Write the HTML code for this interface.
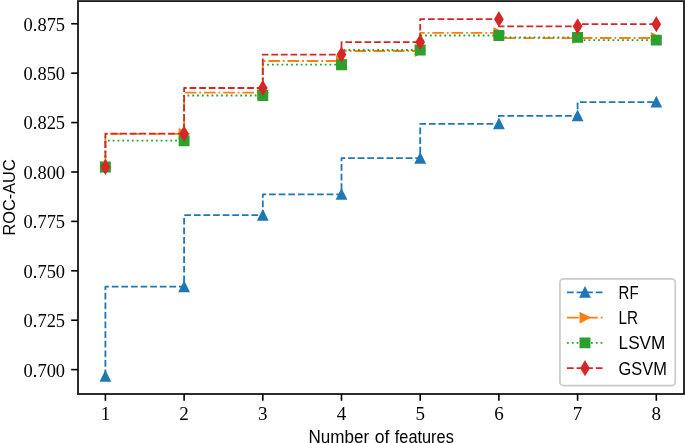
<!DOCTYPE html>
<html><head><meta charset="utf-8"><title>ROC-AUC vs Number of features</title>
<style>
html,body{margin:0;padding:0;background:#fff;}
svg{display:block;}
.tk{font-family:"Liberation Serif","DejaVu Serif",serif;font-size:19px;fill:#000;}
.lb{font-family:"Liberation Sans","DejaVu Sans",sans-serif;font-size:17.5px;fill:#000;}
</style></head><body>
<svg width="685" height="443" viewBox="0 0 685 443">
<rect width="685" height="443" fill="#fff"/>

<g>
<path d="M105.40 376.30 V286.70 H184.10 V215.20 H262.80 V194.40 H341.50 V158.20 H420.20 V123.80 H498.90 V115.90 H577.60 V102.05 H656.30" fill="none" stroke="#1f77b4" stroke-width="1.812" stroke-dasharray="6.70 2.90" stroke-linejoin="round"/>
<polygon points="105.40,371.60 100.70,381.00 110.10,381.00" fill="#1f77b4" stroke="#1f77b4" stroke-width="1.5" stroke-linejoin="miter"/>
<polygon points="184.10,282.00 179.40,291.40 188.80,291.40" fill="#1f77b4" stroke="#1f77b4" stroke-width="1.5" stroke-linejoin="miter"/>
<polygon points="262.80,210.50 258.10,219.90 267.50,219.90" fill="#1f77b4" stroke="#1f77b4" stroke-width="1.5" stroke-linejoin="miter"/>
<polygon points="341.50,189.70 336.80,199.10 346.20,199.10" fill="#1f77b4" stroke="#1f77b4" stroke-width="1.5" stroke-linejoin="miter"/>
<polygon points="420.20,153.50 415.50,162.90 424.90,162.90" fill="#1f77b4" stroke="#1f77b4" stroke-width="1.5" stroke-linejoin="miter"/>
<polygon points="498.90,119.10 494.20,128.50 503.60,128.50" fill="#1f77b4" stroke="#1f77b4" stroke-width="1.5" stroke-linejoin="miter"/>
<polygon points="577.60,111.20 572.90,120.60 582.30,120.60" fill="#1f77b4" stroke="#1f77b4" stroke-width="1.5" stroke-linejoin="miter"/>
<polygon points="656.30,97.35 651.60,106.75 661.00,106.75" fill="#1f77b4" stroke="#1f77b4" stroke-width="1.5" stroke-linejoin="miter"/>

<path d="M105.40 167.00 V133.80 H184.10 V92.70 H262.80 V61.00 H341.50 V51.00 H420.20 V32.90 H498.90 V38.10 H577.60 V38.00 H656.30" fill="none" stroke="#ff7f0e" stroke-width="1.812" stroke-dasharray="11.60 2.90 1.81 2.90" stroke-linejoin="round"/>
<polygon points="110.10,167.00 100.70,162.30 100.70,171.70" fill="#ff7f0e" stroke="#ff7f0e" stroke-width="1.5" stroke-linejoin="miter"/>
<polygon points="188.80,133.80 179.40,129.10 179.40,138.50" fill="#ff7f0e" stroke="#ff7f0e" stroke-width="1.5" stroke-linejoin="miter"/>
<polygon points="267.50,92.70 258.10,88.00 258.10,97.40" fill="#ff7f0e" stroke="#ff7f0e" stroke-width="1.5" stroke-linejoin="miter"/>
<polygon points="346.20,61.00 336.80,56.30 336.80,65.70" fill="#ff7f0e" stroke="#ff7f0e" stroke-width="1.5" stroke-linejoin="miter"/>
<polygon points="424.90,51.00 415.50,46.30 415.50,55.70" fill="#ff7f0e" stroke="#ff7f0e" stroke-width="1.5" stroke-linejoin="miter"/>
<polygon points="503.60,32.90 494.20,28.20 494.20,37.60" fill="#ff7f0e" stroke="#ff7f0e" stroke-width="1.5" stroke-linejoin="miter"/>
<polygon points="582.30,38.10 572.90,33.40 572.90,42.80" fill="#ff7f0e" stroke="#ff7f0e" stroke-width="1.5" stroke-linejoin="miter"/>
<polygon points="661.00,38.00 651.60,33.30 651.60,42.70" fill="#ff7f0e" stroke="#ff7f0e" stroke-width="1.5" stroke-linejoin="miter"/>

<path d="M105.40 167.00 V140.70 H184.10 V95.50 H262.80 V64.70 H341.50 V50.00 H420.20 V35.50 H498.90 V37.40 H577.60 V40.10 H656.30" fill="none" stroke="#2ca02c" stroke-width="1.812" stroke-dasharray="1.81 2.99" stroke-linejoin="round"/>
<polygon points="100.70,162.30 110.10,162.30 110.10,171.70 100.70,171.70" fill="#2ca02c" stroke="#2ca02c" stroke-width="1.5" stroke-linejoin="miter"/>
<polygon points="179.40,136.00 188.80,136.00 188.80,145.40 179.40,145.40" fill="#2ca02c" stroke="#2ca02c" stroke-width="1.5" stroke-linejoin="miter"/>
<polygon points="258.10,90.80 267.50,90.80 267.50,100.20 258.10,100.20" fill="#2ca02c" stroke="#2ca02c" stroke-width="1.5" stroke-linejoin="miter"/>
<polygon points="336.80,60.00 346.20,60.00 346.20,69.40 336.80,69.40" fill="#2ca02c" stroke="#2ca02c" stroke-width="1.5" stroke-linejoin="miter"/>
<polygon points="415.50,45.30 424.90,45.30 424.90,54.70 415.50,54.70" fill="#2ca02c" stroke="#2ca02c" stroke-width="1.5" stroke-linejoin="miter"/>
<polygon points="494.20,30.80 503.60,30.80 503.60,40.20 494.20,40.20" fill="#2ca02c" stroke="#2ca02c" stroke-width="1.5" stroke-linejoin="miter"/>
<polygon points="572.90,32.70 582.30,32.70 582.30,42.10 572.90,42.10" fill="#2ca02c" stroke="#2ca02c" stroke-width="1.5" stroke-linejoin="miter"/>
<polygon points="651.60,35.40 661.00,35.40 661.00,44.80 651.60,44.80" fill="#2ca02c" stroke="#2ca02c" stroke-width="1.5" stroke-linejoin="miter"/>

<path d="M105.40 167.00 V133.70 H184.10 V88.00 H262.80 V54.55 H341.50 V42.10 H420.20 V19.20 H498.90 V26.30 H577.60 V24.20 H656.30" fill="none" stroke="#d62728" stroke-width="1.812" stroke-dasharray="6.70 2.90" stroke-linejoin="round"/>
<polygon points="105.40,160.35 109.39,167.00 105.40,173.65 101.41,167.00" fill="#d62728" stroke="#d62728" stroke-width="1.5" stroke-linejoin="miter"/>
<polygon points="184.10,127.05 188.09,133.70 184.10,140.35 180.11,133.70" fill="#d62728" stroke="#d62728" stroke-width="1.5" stroke-linejoin="miter"/>
<polygon points="262.80,81.35 266.79,88.00 262.80,94.65 258.81,88.00" fill="#d62728" stroke="#d62728" stroke-width="1.5" stroke-linejoin="miter"/>
<polygon points="341.50,47.90 345.49,54.55 341.50,61.20 337.51,54.55" fill="#d62728" stroke="#d62728" stroke-width="1.5" stroke-linejoin="miter"/>
<polygon points="420.20,35.45 424.19,42.10 420.20,48.75 416.21,42.10" fill="#d62728" stroke="#d62728" stroke-width="1.5" stroke-linejoin="miter"/>
<polygon points="498.90,12.55 502.89,19.20 498.90,25.85 494.91,19.20" fill="#d62728" stroke="#d62728" stroke-width="1.5" stroke-linejoin="miter"/>
<polygon points="577.60,19.65 581.59,26.30 577.60,32.95 573.61,26.30" fill="#d62728" stroke="#d62728" stroke-width="1.5" stroke-linejoin="miter"/>
<polygon points="656.30,17.55 660.29,24.20 656.30,30.85 652.31,24.20" fill="#d62728" stroke="#d62728" stroke-width="1.5" stroke-linejoin="miter"/>

</g>
<rect x="78.0" y="1.1" width="606.00" height="392.90" fill="none" stroke="#1c1c1c" stroke-width="1.85"/>
<line x1="105.40" y1="394.0" x2="105.40" y2="400.8" stroke="#000" stroke-width="1.6"/>
<text class="tk" x="105.40" y="420.3" text-anchor="middle">1</text>
<line x1="184.10" y1="394.0" x2="184.10" y2="400.8" stroke="#000" stroke-width="1.6"/>
<text class="tk" x="184.10" y="420.3" text-anchor="middle">2</text>
<line x1="262.80" y1="394.0" x2="262.80" y2="400.8" stroke="#000" stroke-width="1.6"/>
<text class="tk" x="262.80" y="420.3" text-anchor="middle">3</text>
<line x1="341.50" y1="394.0" x2="341.50" y2="400.8" stroke="#000" stroke-width="1.6"/>
<text class="tk" x="341.50" y="420.3" text-anchor="middle">4</text>
<line x1="420.20" y1="394.0" x2="420.20" y2="400.8" stroke="#000" stroke-width="1.6"/>
<text class="tk" x="420.20" y="420.3" text-anchor="middle">5</text>
<line x1="498.90" y1="394.0" x2="498.90" y2="400.8" stroke="#000" stroke-width="1.6"/>
<text class="tk" x="498.90" y="420.3" text-anchor="middle">6</text>
<line x1="577.60" y1="394.0" x2="577.60" y2="400.8" stroke="#000" stroke-width="1.6"/>
<text class="tk" x="577.60" y="420.3" text-anchor="middle">7</text>
<line x1="656.30" y1="394.0" x2="656.30" y2="400.8" stroke="#000" stroke-width="1.6"/>
<text class="tk" x="656.30" y="420.3" text-anchor="middle">8</text>
<line x1="71.2" y1="369.62" x2="78.0" y2="369.62" stroke="#000" stroke-width="1.6"/>
<text class="tk" x="23.6" y="376.52" textLength="41.5" lengthAdjust="spacingAndGlyphs">0.700</text>
<line x1="71.2" y1="320.21" x2="78.0" y2="320.21" stroke="#000" stroke-width="1.6"/>
<text class="tk" x="23.6" y="327.11" textLength="41.5" lengthAdjust="spacingAndGlyphs">0.725</text>
<line x1="71.2" y1="270.80" x2="78.0" y2="270.80" stroke="#000" stroke-width="1.6"/>
<text class="tk" x="23.6" y="277.70" textLength="41.5" lengthAdjust="spacingAndGlyphs">0.750</text>
<line x1="71.2" y1="221.39" x2="78.0" y2="221.39" stroke="#000" stroke-width="1.6"/>
<text class="tk" x="23.6" y="228.29" textLength="41.5" lengthAdjust="spacingAndGlyphs">0.775</text>
<line x1="71.2" y1="171.98" x2="78.0" y2="171.98" stroke="#000" stroke-width="1.6"/>
<text class="tk" x="23.6" y="178.88" textLength="41.5" lengthAdjust="spacingAndGlyphs">0.800</text>
<line x1="71.2" y1="122.57" x2="78.0" y2="122.57" stroke="#000" stroke-width="1.6"/>
<text class="tk" x="23.6" y="129.47" textLength="41.5" lengthAdjust="spacingAndGlyphs">0.825</text>
<line x1="71.2" y1="73.16" x2="78.0" y2="73.16" stroke="#000" stroke-width="1.6"/>
<text class="tk" x="23.6" y="80.06" textLength="41.5" lengthAdjust="spacingAndGlyphs">0.850</text>
<line x1="71.2" y1="23.75" x2="78.0" y2="23.75" stroke="#000" stroke-width="1.6"/>
<text class="tk" x="23.6" y="30.65" textLength="41.5" lengthAdjust="spacingAndGlyphs">0.875</text>
<text class="lb" y="442.6"><tspan x="308.5" textLength="60.6" lengthAdjust="spacingAndGlyphs">Number</tspan> <tspan x="374.8" textLength="14.6" lengthAdjust="spacingAndGlyphs">of</tspan> <tspan x="394.8" textLength="59" lengthAdjust="spacingAndGlyphs">features</tspan></text>
<text class="lb" style="font-size:17px" transform="translate(14.5,235.5) rotate(-90)" textLength="76.2" lengthAdjust="spacingAndGlyphs">ROC-AUC</text>
<rect x="559.95" y="278.9" width="115.3" height="106.6" rx="3.6" ry="3.6" fill="#fff" fill-opacity="0.8" stroke="#cccccc" stroke-width="1.75"/>
<line x1="567" y1="292.3" x2="602.8" y2="292.3" stroke="#1f77b4" stroke-width="1.812" stroke-dasharray="6.70 2.90"/>
<polygon points="585.00,287.60 580.30,297.00 589.70,297.00" fill="#1f77b4" stroke="#1f77b4" stroke-width="1.5" stroke-linejoin="miter"/>
<text class="lb" x="618.6" y="298.80" textLength="20" lengthAdjust="spacingAndGlyphs">RF</text>
<line x1="567" y1="317.6" x2="602.8" y2="317.6" stroke="#ff7f0e" stroke-width="1.812" stroke-dasharray="11.60 2.90 1.81 2.90"/>
<polygon points="589.70,317.60 580.30,312.90 580.30,322.30" fill="#ff7f0e" stroke="#ff7f0e" stroke-width="1.5" stroke-linejoin="miter"/>
<text class="lb" x="618.6" y="324.10" textLength="19.5" lengthAdjust="spacingAndGlyphs">LR</text>
<line x1="567" y1="342.9" x2="602.8" y2="342.9" stroke="#2ca02c" stroke-width="1.812" stroke-dasharray="1.81 2.99"/>
<polygon points="580.30,338.20 589.70,338.20 589.70,347.60 580.30,347.60" fill="#2ca02c" stroke="#2ca02c" stroke-width="1.5" stroke-linejoin="miter"/>
<text class="lb" x="618.6" y="349.40" textLength="46.8" lengthAdjust="spacingAndGlyphs">LSVM</text>
<line x1="567" y1="368.2" x2="602.8" y2="368.2" stroke="#d62728" stroke-width="1.812" stroke-dasharray="6.70 2.90"/>
<polygon points="585.00,361.55 588.99,368.20 585.00,374.85 581.01,368.20" fill="#d62728" stroke="#d62728" stroke-width="1.5" stroke-linejoin="miter"/>
<text class="lb" x="618.6" y="374.70" textLength="48.2" lengthAdjust="spacingAndGlyphs">GSVM</text>
</svg></body></html>
